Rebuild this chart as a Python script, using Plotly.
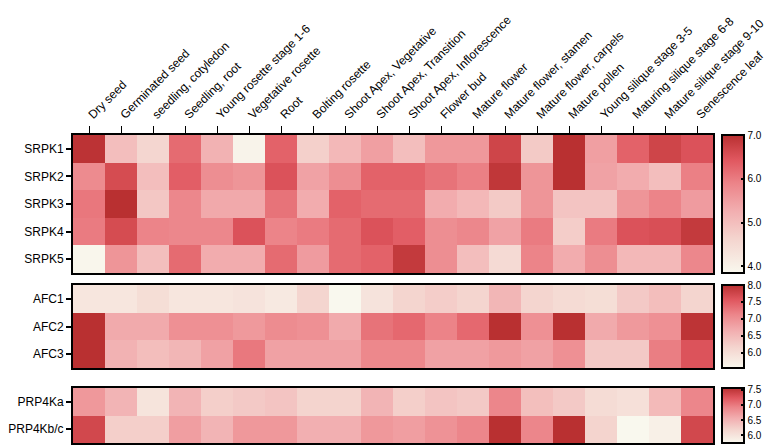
import plotly.graph_objects as go

tissues = ["Dry seed", "Germinated seed", "seedling, cotyledon", "Seedling, root",
           "Young rosette stage 1-6", "Vegetative rosette", "Root", "Bolting rosette",
           "Shoot Apex, Vegetative", "Shoot Apex, Transition", "Shoot Apex, Inflorescence",
           "Flower bud", "Mature flower", "Mature flower, stamen", "Mature flower, carpels",
           "Mature pollen", "Young silique stage 3-5", "Maturing silique stage 6-8",
           "Mature silique stage 9-10", "Senescence leaf"]

srpk_genes = ["SRPK1", "SRPK2", "SRPK3", "SRPK4", "SRPK5"]
srpk1 = [6.95, 5.0, 4.6, 6.2, 5.2, 3.95, 6.3, 4.7, 5.1, 5.5, 5.0, 5.6, 5.6, 6.7, 4.8, 7.0, 5.5, 6.3, 6.7, 6.5]
srpk2 = [5.8, 6.6, 5.0, 6.35, 5.75, 5.65, 6.5, 5.45, 5.75, 6.3, 6.3, 6.1, 5.95, 6.9, 5.65, 7.0, 5.45, 5.3, 5.0, 5.95]
srpk3 = [6.05, 7.0, 4.85, 5.85, 5.35, 5.35, 6.1, 5.3, 6.3, 6.2, 6.2, 5.3, 5.1, 4.8, 5.65, 4.9, 4.9, 5.65, 5.9, 5.55]
srpk4 = [6.0, 6.6, 5.9, 5.85, 5.85, 6.5, 5.9, 6.0, 6.2, 6.5, 6.35, 5.75, 5.85, 5.45, 6.0, 4.75, 6.0, 6.5, 6.55, 6.85]
srpk5 = [3.9, 5.65, 5.0, 6.2, 5.3, 5.3, 6.2, 5.55, 6.2, 6.3, 6.85, 5.75, 5.0, 4.5, 5.9, 5.3, 5.75, 5.1, 5.1, 5.85]

afc_genes = ["AFC1", "AFC2", "AFC3"]
afc1 = [5.85, 5.85, 6.0, 5.85, 5.85, 5.9, 5.8, 6.15, 5.55, 5.9, 6.15, 6.25, 6.15, 6.55, 6.15, 6.05, 6.0, 6.3, 6.45, 6.15]
afc2 = [8.0, 6.7, 6.7, 7.0, 7.0, 6.9, 7.05, 7.0, 6.7, 7.3, 7.4, 7.15, 7.4, 8.0, 7.0, 8.0, 6.7, 6.9, 7.0, 7.95]
afc3 = [8.0, 6.6, 6.45, 6.55, 6.8, 7.25, 6.8, 6.8, 6.8, 7.1, 7.1, 6.8, 6.8, 6.9, 6.8, 7.0, 6.3, 6.3, 7.2, 7.6]

prp_genes = ["PRP4Ka", "PRP4Kb/c"]
prp4ka = [6.75, 6.5, 6.0, 6.5, 6.25, 6.3, 6.35, 6.2, 6.2, 6.5, 6.25, 6.35, 6.3, 6.9, 6.4, 6.3, 6.1, 6.05, 6.45, 6.9]
prp4kbc = [7.35, 6.25, 6.25, 6.7, 6.5, 6.75, 6.75, 6.55, 6.55, 6.75, 6.7, 6.8, 6.9, 7.55, 6.9, 7.55, 6.2, 5.75, 5.85, 7.35]

cscale = [[0.0, "#F9F8EE"], [0.25, "#F4D4CE"], [0.45, "#F2AEB0"],
          [0.65, "#EC8489"], [0.82, "#E0575F"], [1.0, "#B93031"]]

W, H = 778, 445
def fx(px): return px / W
def fy(py): return 1 - py / H

xdom = [fx(73), fx(713)]
panels = [
    dict(genes=srpk_genes, z=[srpk1, srpk2, srpk3, srpk4, srpk5], zmin=3.85, zmax=7.0,
         top=135, bot=273, tickvals=[4, 5, 6, 7]),
    dict(genes=afc_genes, z=[afc1, afc2, afc3], zmin=5.55, zmax=8.0,
         top=285, bot=368, tickvals=[6.0, 6.5, 7.0, 7.5, 8.0]),
    dict(genes=prp_genes, z=[prp4ka, prp4kbc], zmin=5.75, zmax=7.55,
         top=388, bot=443, tickvals=[6.0, 6.5, 7.0, 7.5]),
]

fig = go.Figure()
font = dict(family="Liberation Sans, Arial, sans-serif", color="black")
for i, p in enumerate(panels):
    sfx = "" if i == 0 else str(i + 1)
    fig.add_trace(go.Heatmap(
        z=p["z"], x=tissues, y=p["genes"], zmin=p["zmin"], zmax=p["zmax"],
        colorscale=cscale, xaxis="x" + sfx, yaxis="y" + sfx,
        colorbar=dict(
            x=fx(722), xanchor="left", thickness=22, lenmode="pixels",
            len=p["bot"] - p["top"], y=fy((p["top"] + p["bot"]) / 2), yanchor="middle",
            ypad=0, xpad=0, outlinewidth=2, outlinecolor="black",
            tickvals=p["tickvals"], tickformat=".1f", ticks="inside", ticklen=4,
            tickcolor="black", tickwidth=1.5, tickfont=dict(size=10, **font)),
    ))
    xa = dict(domain=xdom, anchor="y" + sfx, showline=True, mirror=True, linewidth=2,
              linecolor="black", showgrid=False, zeroline=False, automargin=False,
              type="category")
    if i == 0:
        xa.update(side="top", ticks="outside", ticklen=7, tickcolor="black", tickwidth=1.2,
                  tickangle=-45, tickfont=dict(size=12, **font), showticklabels=True)
    else:
        xa.update(showticklabels=False, ticks="")
    ya = dict(domain=[fy(p["bot"]), fy(p["top"])], anchor="x" + sfx, showline=True,
              mirror=True, linewidth=2, linecolor="black", showgrid=False, zeroline=False,
              autorange="reversed", ticks="outside", ticklen=5, tickcolor="black",
              tickwidth=1.5, tickfont=dict(size=12, **font), automargin=False,
              type="category")
    fig.update_layout(**{"xaxis" + sfx: xa, "yaxis" + sfx: ya})

fig.update_layout(width=W, height=H, margin=dict(l=0, r=0, t=0, b=0),
                  paper_bgcolor="white", plot_bgcolor="white", font=font)
fig.write_html("out.html", config={"displayModeBar": False},
               post_script="document.body.style.margin='0';document.body.style.overflow='hidden';")
